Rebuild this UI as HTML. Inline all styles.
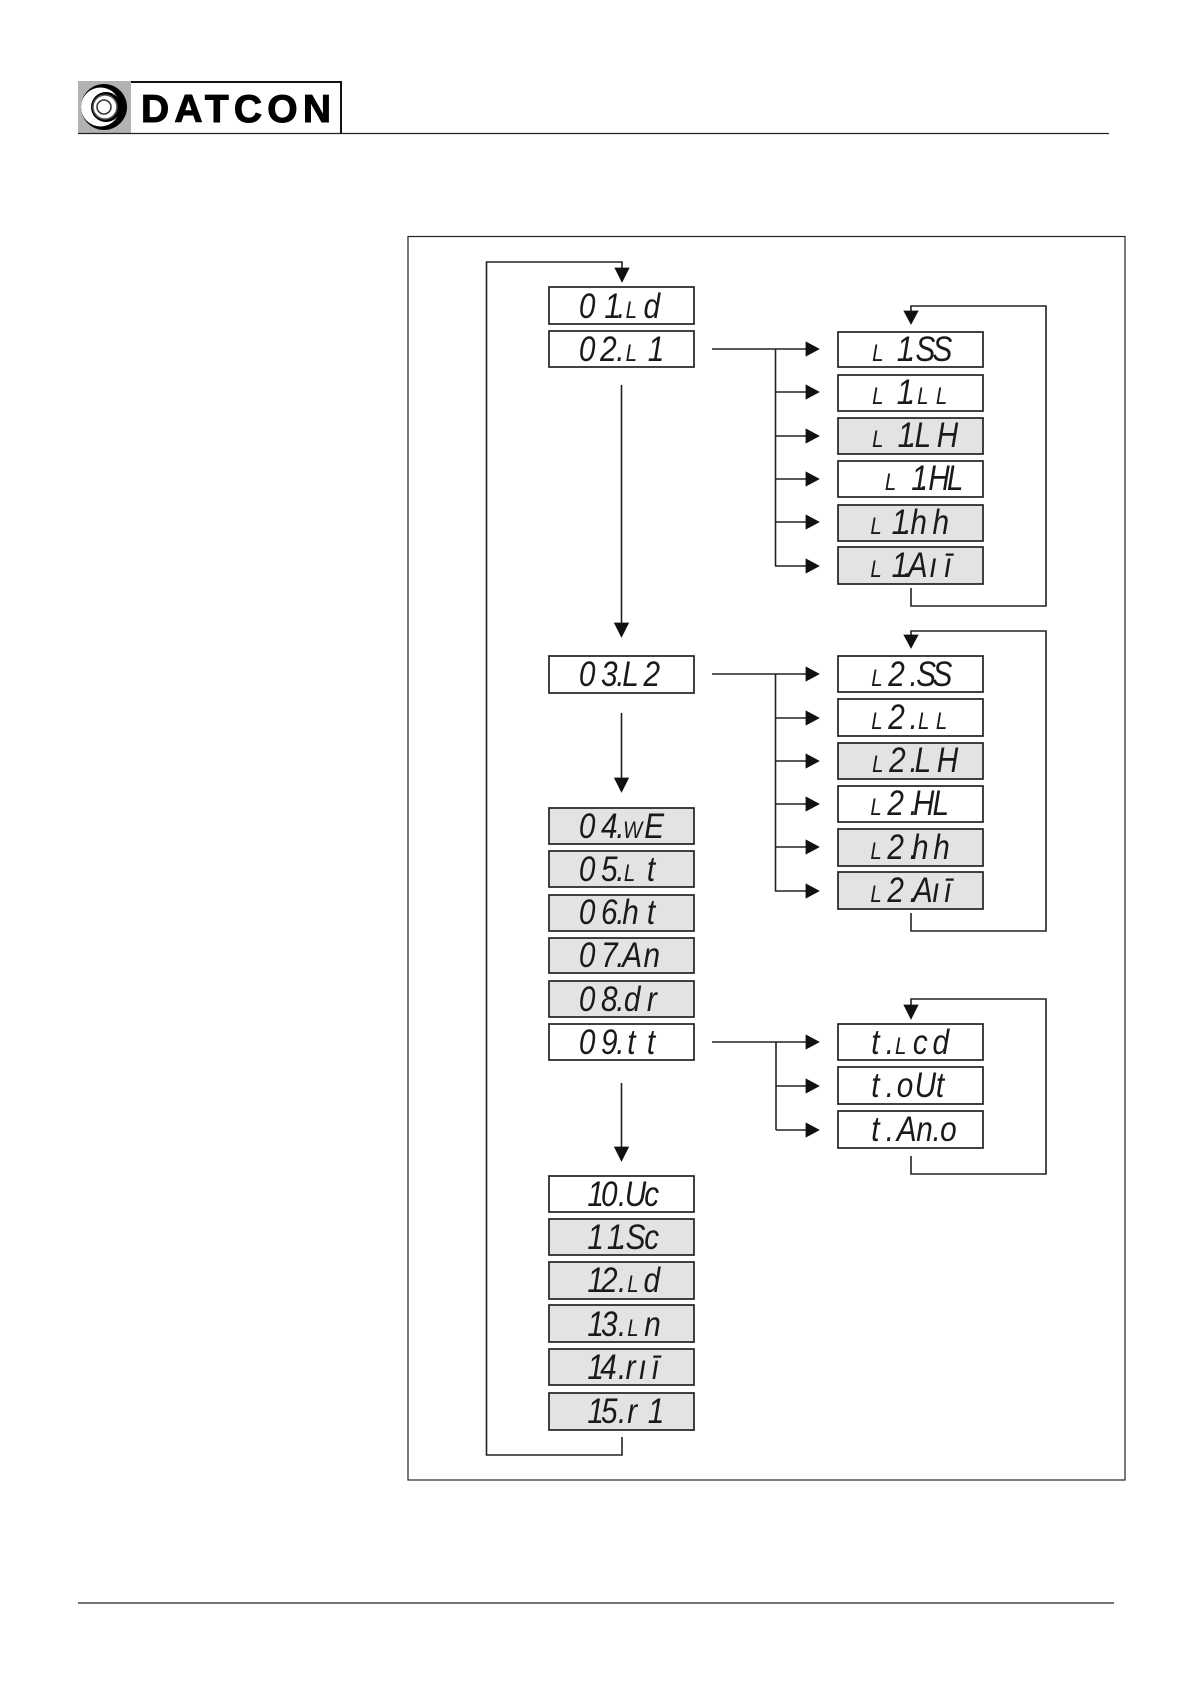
<!DOCTYPE html>
<html><head><meta charset="utf-8"><style>
html,body{margin:0;padding:0;background:#fff}
svg{display:block}
.b{fill:#fff;stroke:#222;stroke-width:1.7}
.g{fill:#e3e3e3;stroke:#222;stroke-width:1.7}
.l{fill:none;stroke:#222;stroke-width:1.6}
.a{fill:#111;stroke:#111;stroke-width:0.8}
.t{font-family:"Liberation Sans",sans-serif;font-style:italic;font-size:35px;fill:#1a1a1a}
.s{font-size:24px}
</style></head><body>
<svg width="1190" height="1684" viewBox="0 0 1190 1684" xmlns="http://www.w3.org/2000/svg">
<!-- header -->
<rect x="78" y="81" width="53" height="52" fill="#b2b2b2"/>
<circle cx="104" cy="107" r="23" fill="#000"/>
<circle cx="100.500" cy="107" r="19.500" fill="#fff"/>
<circle cx="106" cy="107" r="15" fill="#000"/>
<circle cx="105" cy="107" r="12" fill="#fff" stroke="#555" stroke-width="1.500"/>
<circle cx="104" cy="107" r="7" fill="#fff" stroke="#333" stroke-width="1.500"/>
<path d="M131 82H341V133" fill="none" stroke="#111" stroke-width="2"/>
<path d="M78 133.500H1109" stroke="#222" stroke-width="1.300"/>
<text x="141" y="122" font-family="Liberation Sans,sans-serif" font-weight="bold" font-size="39" textLength="190" fill="#000" stroke="#000" stroke-width="1">DATCON</text>
<path d="M78 1603H1114" stroke="#222" stroke-width="1.300"/>
<!-- frame -->
<rect x="408" y="236.500" width="717" height="1243.500" fill="none" stroke="#222" stroke-width="1.200"/>
<!-- loops -->
<path class="l" d="M622 268V262H486.500V1455H622V1437"/>
<path class="l" d="M911 311V306H1046V606H911V588"/>
<path class="l" d="M911 636V631H1046V931H911V913"/>
<path class="l" d="M911 1005V999H1046V1174H911V1156"/>
<polygon class="a" points="615,268 629,268 622,282"/>
<polygon class="a" points="904,311 918,311 911,324"/>
<polygon class="a" points="904,635 918,635 911,648"/>
<polygon class="a" points="904,1005 918,1005 911,1019"/>
<!-- vertical arrows -->
<path class="l" d="M621.500 385V625M621.500 713V780M621.500 1083V1150"/>
<polygon class="a" points="614.500,623 628.500,623 621.500,637"/>
<polygon class="a" points="614.500,778 628.500,778 621.500,792"/>
<polygon class="a" points="614.500,1147 628.500,1147 621.500,1161"/>
<!-- branches -->
<path class="l" d="M712 349H806M775.500 349V566M775 392H806M775 436H806M775 479H806M775 522H806M775 566H806"/>
<path class="l" d="M712 674H806M775.500 674V891M775 718H806M775 761H806M775 804H806M775 847H806M775 891H806"/>
<path class="l" d="M712 1042H806M776 1042V1130M776 1086H806M776 1130H806"/>
<polygon class="a" points="806,342 806,356 819,349"/><polygon class="a" points="806,385 806,399 819,392"/><polygon class="a" points="806,429 806,443 819,436"/><polygon class="a" points="806,472 806,486 819,479"/><polygon class="a" points="806,515 806,529 819,522"/><polygon class="a" points="806,559 806,573 819,566"/>
<polygon class="a" points="806,667 806,681 819,674"/><polygon class="a" points="806,711 806,725 819,718"/><polygon class="a" points="806,754 806,768 819,761"/><polygon class="a" points="806,797 806,811 819,804"/><polygon class="a" points="806,840 806,854 819,847"/><polygon class="a" points="806,884 806,898 819,891"/>
<polygon class="a" points="806,1035 806,1049 819,1042"/><polygon class="a" points="806,1079 806,1093 819,1086"/><polygon class="a" points="806,1123 806,1137 819,1130"/>
<!-- left column boxes -->
<rect class="b" x="549" y="287" width="145" height="37"/>
<rect class="b" x="549" y="331" width="145" height="36"/>
<rect class="b" x="549" y="656" width="145" height="37"/>
<rect class="g" x="549" y="808" width="145" height="36"/>
<rect class="g" x="549" y="851" width="145" height="36"/>
<rect class="g" x="549" y="895" width="145" height="36"/>
<rect class="g" x="549" y="938" width="145" height="35"/>
<rect class="g" x="549" y="981" width="145" height="36"/>
<rect class="b" x="549" y="1024" width="145" height="36"/>
<rect class="b" x="549" y="1176" width="145" height="36"/>
<rect class="g" x="549" y="1219" width="145" height="36"/>
<rect class="g" x="549" y="1262" width="145" height="37"/>
<rect class="g" x="549" y="1305" width="145" height="37"/>
<rect class="g" x="549" y="1349" width="145" height="36"/>
<rect class="g" x="549" y="1393" width="145" height="37"/>
<!-- right column boxes -->
<rect class="b" x="838" y="332" width="145" height="35"/>
<rect class="b" x="838" y="375" width="145" height="36"/>
<rect class="g" x="838" y="418" width="145" height="36"/>
<rect class="b" x="838" y="461" width="145" height="36"/>
<rect class="g" x="838" y="505" width="145" height="36"/>
<rect class="g" x="838" y="547" width="145" height="37"/>
<rect class="b" x="838" y="656" width="145" height="36"/>
<rect class="b" x="838" y="699" width="145" height="37"/>
<rect class="g" x="838" y="743" width="145" height="36"/>
<rect class="b" x="838" y="786" width="145" height="36"/>
<rect class="g" x="838" y="829" width="145" height="37"/>
<rect class="g" x="838" y="872" width="145" height="37"/>
<rect class="b" x="838" y="1024" width="145" height="36"/>
<rect class="b" x="838" y="1067" width="145" height="37"/>
<rect class="b" x="838" y="1111" width="145" height="37"/>
<g transform="scale(0.85,1)">
<!-- left column labels -->
<text class="t" y="318" x="681 711 726 736 757">01.<tspan class="s">L</tspan>d</text>
<text class="t" y="361" x="681 706 725 736 762">02.<tspan class="s">L</tspan>1</text>
<text class="t" y="686" x="681 707 725 732 757">03.L2</text>
<text class="t" y="838" x="681 707 725 733 758">04.<tspan class="s">W</tspan>E</text>
<text class="t" y="881" x="681 707 725 734 761">05.<tspan class="s">L</tspan>t</text>
<text class="t" y="924" x="681 707 725 732 761">06.ht</text>
<text class="t" y="967" x="681 707 725 732 757">07.An</text>
<text class="t" y="1011" x="681 707 725 734 761">08.dr</text>
<text class="t" y="1054" x="681 707 725 738 761">09.tt</text>
<text class="t" y="1206" x="691 707 727 735 758">10.Uc</text>
<text class="t" y="1249" x="691 714 728 736 758">11.Sc</text>
<text class="t" y="1292" x="691 707 727 738 757">12.<tspan class="s">L</tspan>d</text>
<text class="t" y="1336" x="691 707 727 738 758">13.<tspan class="s">L</tspan>n</text>
<text class="t" y="1379" x="691 706 727 736 751 767">14.rıī</text>
<text class="t" y="1423" x="691 707 727 738 762">15.r1</text>
<!-- right column labels -->
<text class="t" y="361" x="1026 1055 1068 1077 1097"><tspan class="s">L</tspan>1.SS</text>
<text class="t" y="404" x="1026 1055 1068 1079 1101"><tspan class="s">L</tspan>1.<tspan class="s">LL</tspan></text>
<text class="t" y="447" x="1026 1056 1069 1076 1102"><tspan class="s">L</tspan>1.LH</text>
<text class="t" y="490" x="1041 1072 1083 1092 1114"><tspan class="s">L</tspan>1.HL</text>
<text class="t" y="534" x="1024 1049 1063 1071 1097"><tspan class="s">L</tspan>1.hh</text>
<text class="t" y="577" x="1024 1049 1063 1068 1093 1111"><tspan class="s">L</tspan>1.Aıī</text>
<text class="t" y="686" x="1025 1045 1070 1078 1097"><tspan class="s">L</tspan>2.SS</text>
<text class="t" y="729" x="1025 1045 1070 1080 1101"><tspan class="s">L</tspan>2.<tspan class="s">LL</tspan></text>
<text class="t" y="772" x="1026 1046 1070 1076 1102"><tspan class="s">L</tspan>2.LH</text>
<text class="t" y="815" x="1024 1044 1070 1074 1097"><tspan class="s">L</tspan>2.HL</text>
<text class="t" y="859" x="1024 1044 1070 1073 1098"><tspan class="s">L</tspan>2.hh</text>
<text class="t" y="902" x="1024 1044 1070 1074 1096 1111"><tspan class="s">L</tspan>2.Aıī</text>
<text class="t" y="1054" x="1025 1042 1053 1074 1097">t.<tspan class="s">L</tspan>cd</text>
<text class="t" y="1097" x="1025 1042 1055 1076 1101">t.oUt</text>
<text class="t" y="1141" x="1025 1042 1055 1078 1097 1106">t.An.o</text>
</g>
</svg>
</body></html>
